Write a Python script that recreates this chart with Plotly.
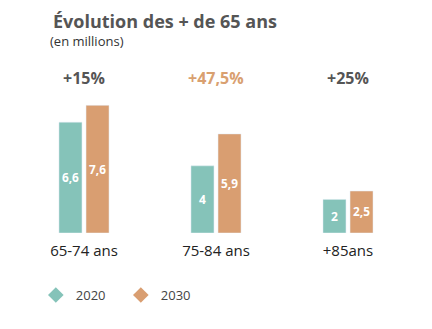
import plotly.graph_objects as go

categories = ["65-74 ans", "75-84 ans", "+85ans"]
values_2020 = [6.6, 4, 2]
values_2030 = [7.6, 5.9, 2.5]
labels_2020 = ["6,6", "4", "2"]
labels_2030 = ["7,6", "5,9", "2,5"]
growth = ["+15%", "+47,5%", "+25%"]
growth_colors = ["#555555", "#D9A070", "#555555"]

TEAL = "#85C3B9"
ORANGE = "#D99E71"
FONT = "Open Sans"

fig = go.Figure()
fig.add_trace(go.Bar(x=categories, y=values_2020, text=labels_2020, marker_color=TEAL,
                     textposition="inside", insidetextanchor="middle", textangle=0,
                     textfont=dict(color="white", size=12, family=FONT, weight="bold"),
                     showlegend=False, hoverinfo="skip"))
fig.add_trace(go.Bar(x=categories, y=values_2030, text=labels_2030, marker_color=ORANGE,
                     textposition="inside", insidetextanchor="middle", textangle=0,
                     textfont=dict(color="white", size=12, family=FONT, weight="bold"),
                     showlegend=False, hoverinfo="skip"))
for name, col in [("2020", TEAL), ("2030", ORANGE)]:
    fig.add_trace(go.Scatter(x=[None], y=[None], mode="markers", name=name,
                             marker=dict(symbol="diamond", size=12, color=col)))

for cat, g, c in zip(categories, growth, growth_colors):
    fig.add_annotation(x=cat, y=1, yref="paper", yshift=35, text=g, showarrow=False,
                       font=dict(size=16, color=c, family=FONT, weight="bold"))

fig.add_annotation(x=0, xref="paper", y=1, yref="paper", text="Évolution des + de 65 ans",
                   showarrow=False, xanchor="left", yanchor="middle",
                   xshift=33, yshift=79,
                   font=dict(size=18, color="#555555", family=FONT, weight="bold"))
fig.add_annotation(x=0, xref="paper", y=1, yref="paper", text="(en millions)",
                   showarrow=False, xanchor="left", yanchor="middle",
                   xshift=30, yshift=59,
                   font=dict(size=13, color="#333333", family=FONT))

fig.update_layout(
    width=432, height=329,
    margin=dict(l=18, r=18, t=100, b=96),
    paper_bgcolor="white", plot_bgcolor="white",
    barmode="group", bargap=0.59, bargroupgap=0.15,
    font=dict(family=FONT),
    xaxis=dict(showgrid=False, showline=False, zeroline=False, ticks="",
               tickfont=dict(size=15, color="#222222", family=FONT),
               ticklabelstandoff=7, fixedrange=True),
    yaxis=dict(visible=False, range=[0, 7.92], fixedrange=True),
    legend=dict(orientation="h", x=0.045, y=-0.466, xanchor="left", yanchor="middle",
                font=dict(size=13, color="#444444", family=FONT),
                entrywidth=40, itemwidth=30),
)

fig.write_html("out.html")
